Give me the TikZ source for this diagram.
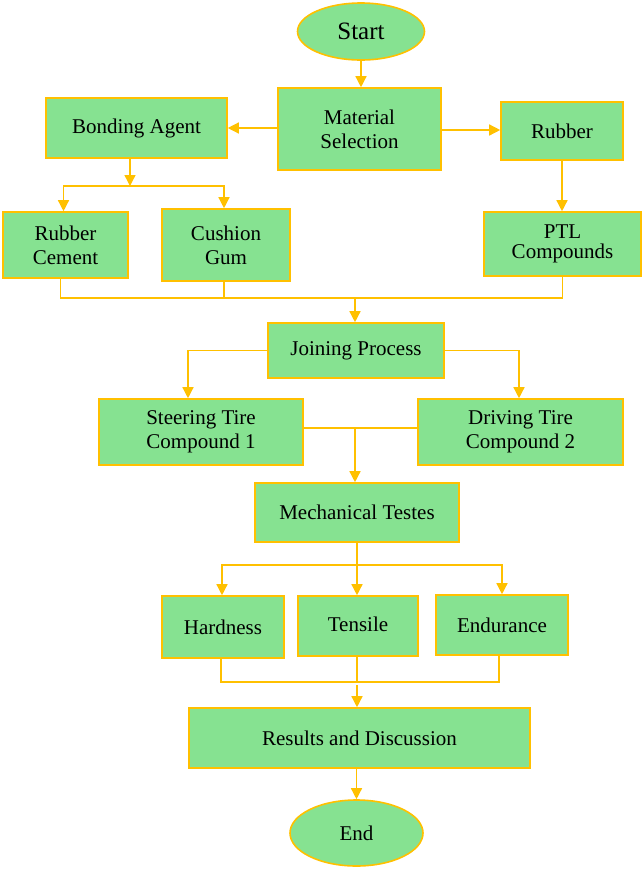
\documentclass[tikz,border=0pt]{standalone}
\usepackage{fontspec}
\setmainfont{Liberation Serif}
\usetikzlibrary{arrows.meta,shapes.geometric}
\definecolor{boxfill}{HTML}{86E291}
\definecolor{edgecol}{HTML}{FFC000}
\begin{document}
\begin{tikzpicture}[x=1pt,y=-1pt,
  box/.style={draw=edgecol,line width=1.6pt,fill=boxfill,rectangle,inner sep=0pt,align=center,font=\fontsize{21}{24}\selectfont},
  oval/.style={box,ellipse},
  conn/.style={draw=edgecol,line width=1.4pt},
  arr/.style={conn,-{Triangle[length=11pt,width=11pt]}}]
\useasboundingbox (0,0) rectangle (644,871);
% nodes
\node[oval,minimum width=127pt,minimum height=57pt,font=\fontsize{25}{28}\selectfont] (start) at (361,31.5) {Start};
\node[box,minimum width=163pt,minimum height=82pt] (mat) at (359.5,129) {Material\\Selection};
\node[box,minimum width=181pt,minimum height=60pt] (bond) at (136.5,128) {Bonding Agent};
\node[box,minimum width=122pt,minimum height=58pt] (rub) at (562,131) {Rubber};
\node[box,minimum width=125pt,minimum height=66pt] (rcem) at (65.5,245) {Rubber\\Cement};
\node[box,minimum width=128pt,minimum height=72pt] (cush) at (226,245) {Cushion\\Gum};
\node[box,minimum width=157pt,minimum height=64pt,font=\fontsize{21}{20}\selectfont] (ptl) at (562.5,244) {PTL\\Compounds};
\node[box,minimum width=176pt,minimum height=55pt] (join) at (356,350.5) {Joining Process};
\node[box,minimum width=204pt,minimum height=66pt] (steer) at (201,432) {Steering Tire\\Compound 1};
\node[box,minimum width=205pt,minimum height=66pt] (drive) at (520.5,432) {Driving Tire\\Compound 2};
\node[box,minimum width=204pt,minimum height=59pt] (mech) at (357,512.5) {Mechanical Testes};
\node[box,minimum width=122pt,minimum height=62pt] (hard) at (223,627) {Hardness};
\node[box,minimum width=120pt,minimum height=60pt] (tens) at (358,626) {Tensile\\[-20pt]};
\node[box,minimum width=132pt,minimum height=60pt] (endu) at (502,625) {Endurance};
\node[box,minimum width=341pt,minimum height=60pt] (res) at (359.5,738) {Results and Discussion};
\node[oval,minimum width=133pt,minimum height=66pt] (endn) at (356.5,833) {End};
% junction points
\coordinate (bsplit) at (130,186);
\coordinate (jn) at (355,298);
\coordinate (sd) at (355,428);
\coordinate (ms) at (357,565);
\coordinate (tj) at (357,682);
% connectors
\draw[arr] (start.south) -- (start.south |- mat.north);
\draw[arr] (mat.west |- bond.east) -- (bond.east);
\draw[arr] (mat.east |- 0,130) -- (rub.west |- 0,130);
\draw[arr] (rub.south) -- (rub.south |- ptl.north);
\draw[arr] (bond.south -| bsplit) -- (bsplit);
\draw[arr] (bsplit) -| ([xshift=-2pt]rcem.north);
\draw[arr] (bsplit) -| ([xshift=-2pt]cush.north);
\draw[conn] ([xshift=-5pt]rcem.south) |- (jn);
\draw[conn] ([xshift=-2pt]cush.south) |- (jn);
\draw[conn] (ptl.south) |- (jn);
\draw[arr] (jn) -- (jn |- join.north);
\draw[arr] (join.west) -| ([xshift=-13pt]steer.north);
\draw[arr] (join.east) -| ([xshift=-1.5pt]drive.north);
\draw[conn] (steer.east |- sd) -- (drive.west |- sd);
\draw[arr] (sd) -- (sd |- mech.north);
\draw[conn] (mech.south -| ms) -- (ms);
\draw[arr] (ms) -| ([xshift=-1pt]hard.north);
\draw[arr] (ms) -| (endu.north);
\draw[arr] (ms) -- (ms |- tens.north);
\draw[conn] ([xshift=-2pt]hard.south) |- (tj);
\draw[conn] ([xshift=-3pt]endu.south) |- (tj);
\draw[conn] (tens.south -| tj) -- (tj);
\draw[arr] ([yshift=-3pt]tj) -- (tj |- res.north);
\draw[arr] (endn.north |- res.south) -- (endn.north);
\end{tikzpicture}
\end{document}
